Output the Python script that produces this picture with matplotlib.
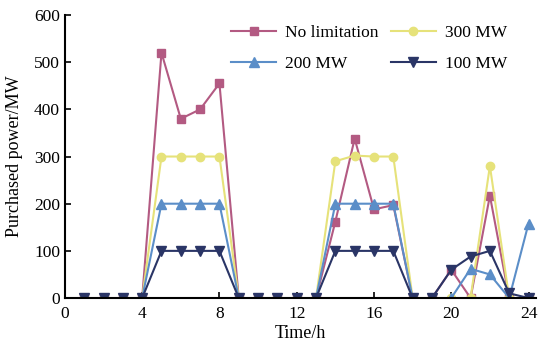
import matplotlib
matplotlib.use("Agg")
import matplotlib.pyplot as plt

hours = list(range(1, 25))
no_limit = [0, 0, 0, 0, 520, 380, 400, 455, 0, 0, 0, 0, 0, 162, 338, 188, 197, 0, 0, 60, 0, 217, 0, 0]
mw300 = [0, 0, 0, 0, 300, 300, 300, 300, 0, 0, 0, 0, 0, 290, 302, 300, 300, 0, 0, 0, 0, 280, 0, 0]
mw200 = [0, 0, 0, 0, 200, 200, 200, 200, 0, 0, 0, 0, 0, 200, 200, 200, 200, 0, 0, 0, 62, 50, 0, 158]
mw100 = [0, 0, 0, 0, 100, 100, 100, 100, 0, 0, 0, 0, 0, 100, 100, 100, 100, 0, 0, 60, 88, 100, 10, 0]

plt.rcParams["font.family"] = ["Liberation Serif", "DejaVu Serif"]

fig = plt.figure(figsize=(5.5, 3.49), dpi=100)
ax = fig.add_axes([0.118, 0.146, 0.857, 0.811])

ax.plot(hours, no_limit, color="#b35a82", marker="s", markersize=5.5, lw=1.5, label="No limitation")
ax.plot(hours, mw300, color="#e6e27a", marker="o", markersize=6, lw=1.5, label="300 MW")
ax.plot(hours, mw200, color="#5b8ec8", marker="^", markersize=6.5, lw=1.5, label="200 MW")
ax.plot(hours, mw100, color="#2a3566", marker="v", markersize=6.5, lw=1.5, label="100 MW")

ax.set_xlim(0, 24.4)
ax.set_ylim(0, 600)
ax.set_xticks(range(0, 25, 4))
ax.set_yticks(range(0, 601, 100))
ax.tick_params(direction="in", labelsize=12.5, width=1.2, length=4)
ax.tick_params(axis="x", pad=6)
ax.spines[["top", "right"]].set_visible(False)
ax.spines[["left", "bottom"]].set_linewidth(1.5)
ax.set_xlabel("Time/h", fontsize=13, labelpad=2)
ax.set_ylabel("Purchased power/MW", fontsize=13, labelpad=8)

handles, labels = ax.get_legend_handles_labels()
order = [0, 2, 1, 3]
ax.legend([handles[i] for i in order], [labels[i] for i in order], ncol=2, frameon=False,
          fontsize=12.5, loc="upper left", bbox_to_anchor=(0.32, 1.02),
          handlelength=2.6, handletextpad=0.5, columnspacing=0.7, labelspacing=0.85)

fig.savefig("out.png", dpi=100, facecolor="white")
